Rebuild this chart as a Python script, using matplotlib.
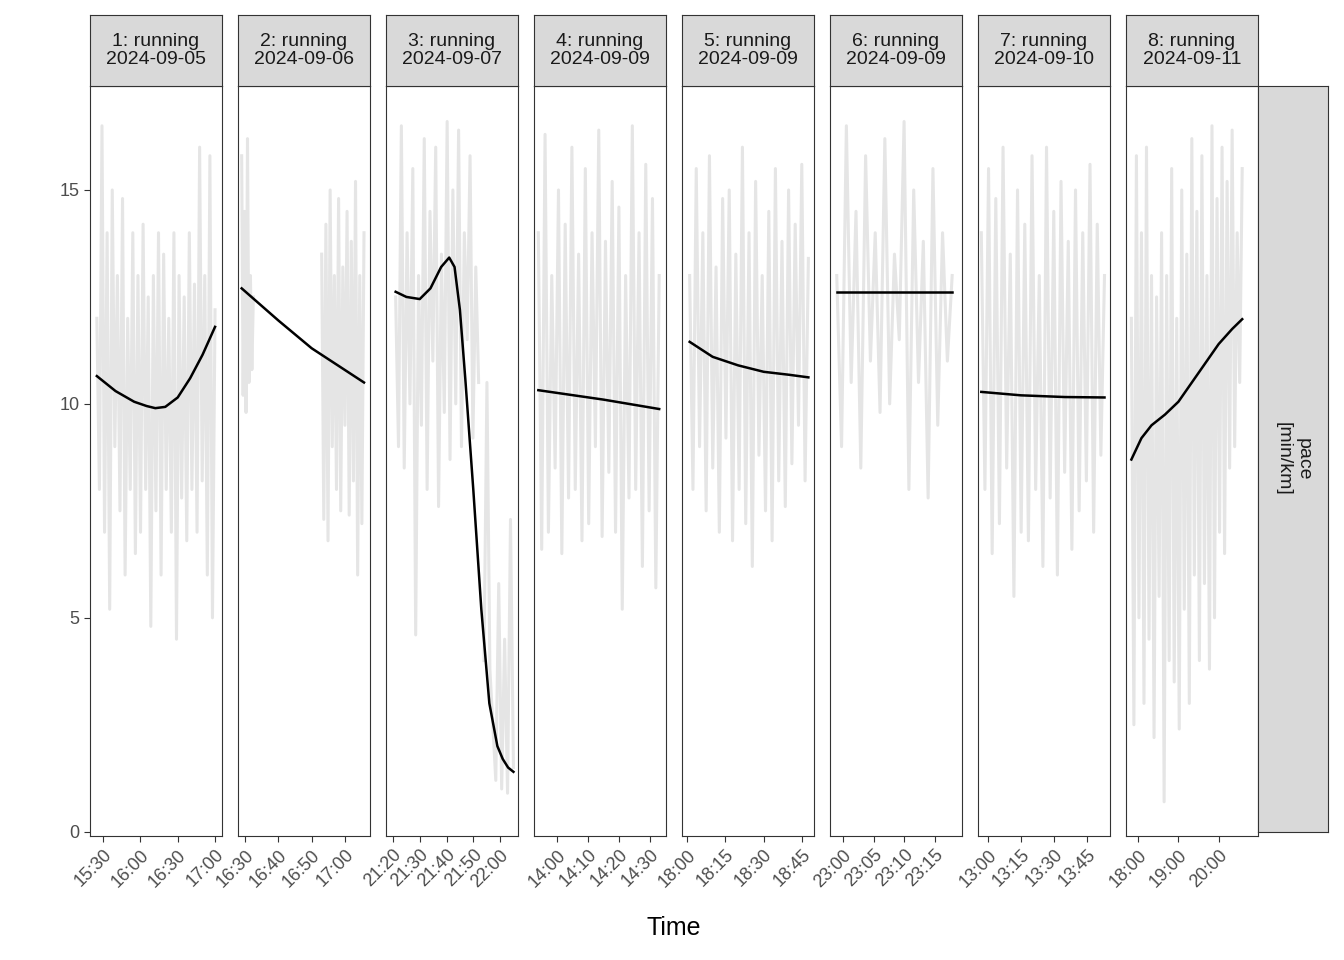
import numpy as np
import matplotlib.pyplot as plt

titles = ['1: running\n2024-09-05', '2: running\n2024-09-06', '3: running\n2024-09-07',
          '4: running\n2024-09-09', '5: running\n2024-09-09', '6: running\n2024-09-09',
          '7: running\n2024-09-10', '8: running\n2024-09-11']

def hm(s):
    h, m = s.split(':')
    return int(h) * 60 + float(m)

# x limits of each panel (clock time)
xlims = [('15:19.5', '17:05.6'), ('16:27.9', '17:07.5'), ('21:17.4', '22:06.7'),
         ('13:52.6', '14:35.2'), ('17:58', '18:49.7'), ('22:57.9', '23:19.4'),
         ('12:55.5', '13:55.5'), ('17:42', '20:58.5')]
ticks = [['15:30', '16:00', '16:30', '17:00'], ['16:30', '16:40', '16:50', '17:00'],
         ['21:20', '21:30', '21:40', '21:50', '22:00'], ['14:00', '14:10', '14:20', '14:30'],
         ['18:00', '18:15', '18:30', '18:45'], ['23:00', '23:05', '23:10', '23:15'],
         ['13:00', '13:15', '13:30', '13:45'], ['18:00', '19:00', '20:00']]

# raw pace segments: (start, end, values)
raw = [
    [('15:25', '17:00', [12, 8, 16.5, 7, 14, 5.2, 15, 9, 13, 7.5, 14.8, 6, 12, 8, 14, 6.5, 13, 7, 14.2, 8,
                         12.5, 4.8, 13, 7.5, 14, 6, 13.5, 8, 12, 7, 14, 4.5, 13, 7.8, 12.5, 6.8, 14, 8,
                         12.8, 7, 16, 8.2, 13, 6, 15.8, 5, 12.2])],
    [('16:29', '16:32.5', [15.8, 10.2, 14.5, 9.8, 16.2, 10.5, 13, 10.8, 12.5]),
     ('16:53', '17:05.7', [13.5, 7.3, 14.2, 6.8, 15, 9, 13, 8, 14.8, 7.5, 13.2, 9.5, 14.5, 7.4, 13.8,
                           8.2, 15.2, 6, 13, 7.2, 14])],
    [('21:21', '21:52', [12.5, 9, 16.5, 8.5, 14, 10, 15.5, 4.6, 13, 9.5, 16.2, 8, 14.5, 11, 16, 7.6,
                         13.5, 9.8, 16.6, 8.7, 15, 10, 16.4, 9, 14, 11.5, 15.8, 9.2, 13.2, 10.5]),
     ('21:54', '22:05', [4, 10.5, 3.8, 2.5, 1.2, 5.8, 1, 4.5, 0.9, 7.3, 1.5])],
    [('13:54', '14:33', [14, 6.6, 16.3, 7, 13, 8.5, 15, 6.5, 14.2, 7.8, 16, 8, 13.5, 6.8, 15.5, 7.2, 14,
                         9, 16.4, 6.9, 13.8, 8.4, 15.2, 7, 14.6, 5.2, 13, 7.8, 16.5, 8, 14, 6.2, 15.6,
                         7.5, 14.8, 5.7, 13])],
    [('18:01', '18:47.5', [13, 8, 15.5, 9, 14, 7.5, 15.8, 8.5, 13.2, 7, 14.8, 9.2, 15, 6.8, 13.5, 8, 16,
                           7.2, 14, 6.2, 15.2, 8.8, 13, 7.5, 14.5, 6.8, 15.5, 8.2, 13.8, 7.6, 15, 8.6,
                           14.2, 9.5, 15.6, 8.2, 13.4])],
    [('22:59', '23:17.8', [13, 9, 16.5, 10.5, 14.5, 8.5, 15.8, 11, 14, 9.8, 16.2, 10, 13.5, 11.5, 16.6,
                           8, 15, 10.5, 13.8, 7.8, 15.5, 9.5, 14, 11, 13])],
    [('12:57', '13:53', [14, 8, 15.5, 6.5, 14.8, 7.2, 16, 8.5, 13.5, 5.5, 15, 7, 14.2, 6.8, 15.8, 8,
                         13, 6.2, 16, 7.8, 14.5, 6, 15.2, 8.4, 13.8, 6.6, 15, 7.5, 14, 8.2, 15.6, 7,
                         14.2, 8.8, 13])],
    [('17:50', '20:35', [12, 2.5, 15.8, 5, 14, 3, 16, 4.5, 13, 2.2, 12.5, 5.5, 14, 0.7, 13, 4, 15.5,
                         3.5, 12, 2.4, 15, 5.2, 13.5, 3, 16.2, 6, 14.5, 4, 15.8, 5.8, 13, 3.8, 16.5,
                         5, 14.8, 7, 16, 6.5, 15.2, 8.5, 16.4, 9, 14, 10.5, 15.5])],
]

# smoothed trend lines: (times, values)
smooth = [
    (['15:25', '15:40', '15:55', '16:05', '16:12', '16:20', '16:30', '16:40', '16:50', '17:00'],
     [10.65, 10.3, 10.05, 9.95, 9.9, 9.93, 10.15, 10.6, 11.15, 11.8]),
    (['16:29', '16:40', '16:50', '17:05.7'], [12.7, 11.95, 11.3, 10.5]),
    (['21:21', '21:25', '21:30', '21:34', '21:38', '21:41', '21:43', '21:45', '21:47', '21:50',
      '21:53', '21:56', '21:59', '22:01', '22:03', '22:05'],
     [12.62, 12.5, 12.45, 12.7, 13.2, 13.42, 13.2, 12.2, 10.6, 8.0, 5.2, 3.0, 2.0, 1.7, 1.5, 1.4]),
    (['13:54', '14:15', '14:33'], [10.32, 10.1, 9.88]),
    (['18:01', '18:10', '18:20', '18:30', '18:40', '18:47.5'], [11.45, 11.1, 10.9, 10.75, 10.68, 10.62]),
    (['22:59', '23:17.8'], [12.62, 12.62]),
    (['12:57', '13:15', '13:35', '13:53'], [10.28, 10.2, 10.16, 10.15]),
    (['17:50', '18:05', '18:20', '18:40', '19:00', '19:20', '19:40', '20:00', '20:20', '20:35'],
     [8.7, 9.2, 9.5, 9.75, 10.05, 10.5, 10.95, 11.4, 11.75, 11.98]),
]

W, H = 1344, 960
fig = plt.figure(figsize=(W / 100, H / 100), dpi=100)
plt.rcParams['font.family'] = 'Liberation Sans'
edge = '#333333'

def fx(x): return x / W
def fy(y): return 1 - y / H

lefts = [90, 238, 386, 534, 682, 830, 978, 1126]
pw, top, bot = 132, 86, 836
for i, left in enumerate(lefts):
    ax = fig.add_axes([fx(left), fy(bot), pw / W, (bot - top) / H])
    for t0, t1, vals in raw[i]:
        xs = np.linspace(hm(t0), hm(t1), len(vals))
        ax.plot(xs, vals, color='#e5e5e5', lw=2.2, zorder=1)
    ts, vs = smooth[i]
    ax.plot([hm(t) for t in ts], vs, color='black', lw=1.8, zorder=2)
    ax.set_xlim(hm(xlims[i][0]), hm(xlims[i][1]))
    ax.set_ylim(-0.1, 17.43)
    ax.set_xticks([hm(t) for t in ticks[i]])
    ax.set_xticklabels(ticks[i], rotation=45, ha='right', rotation_mode='anchor', fontsize=13, color='#4d4d4d')
    ax.tick_params(axis='x', length=4, color=edge)
    if i == 0:
        ax.set_yticks([0, 5, 10, 15])
        ax.tick_params(axis='y', labelsize=13, labelcolor='#4d4d4d', length=4, color=edge)
    else:
        ax.set_yticks([])
    for s in ax.spines.values():
        s.set_color(edge)
    # strip on top
    st = fig.add_axes([fx(left), fy(top), pw / W, (top - 15) / H])
    st.set_facecolor('#d9d9d9')
    st.set_xticks([]); st.set_yticks([])
    for s in st.spines.values():
        s.set_color(edge)
    st.text(0.5, 0.5, titles[i], ha='center', va='center', fontsize=14, color='#1a1a1a',
            linespacing=1.1, transform=st.transAxes)

rs = fig.add_axes([fx(1258), fy(832), 70 / W, (832 - 86) / H])
rs.set_facecolor('#d9d9d9')
rs.set_xticks([]); rs.set_yticks([])
for s in rs.spines.values():
    s.set_color(edge)
rs.text(0.5, 0.5, 'pace\n[min/km]', rotation=-90, ha='center', va='center', fontsize=14,
        color='#1a1a1a', transform=rs.transAxes)

fig.text(fx(674), fy(928), 'Time', ha='center', va='center', fontsize=18)
fig.savefig('out.png', dpi=100)
